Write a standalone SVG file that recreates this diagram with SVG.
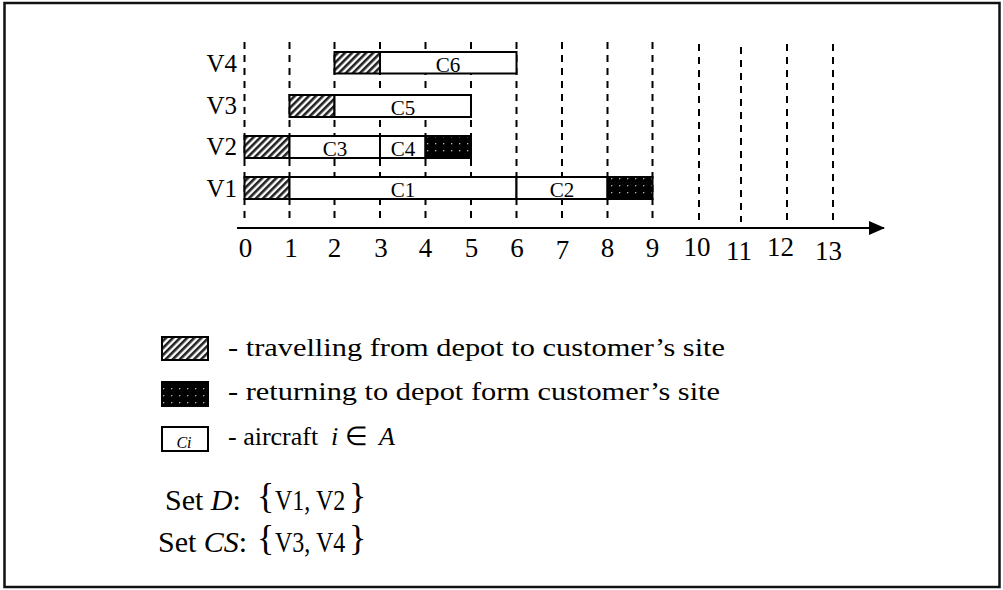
<svg xmlns="http://www.w3.org/2000/svg" width="1003" height="590" viewBox="0 0 1003 590">
<style>
text{font-family:"Liberation Serif","Times New Roman",serif;fill:#000}
.grid line{stroke:#000;stroke-width:2;stroke-dasharray:7 6}
.seg{stroke:#000;stroke-width:2}
.white{fill:#fff}
.hatch{fill:url(#hatch)}
.dots{fill:url(#dots)}
.clab{font-size:21px;text-anchor:middle}
.vlab{font-size:25px;text-anchor:end}
.tick{font-size:27px;text-anchor:middle}
.leg{font-size:26px}
.set{font-size:30px}
.brace{font-size:36px}
</style>
<defs>
<pattern id="hatch" patternUnits="userSpaceOnUse" width="5" height="5" patternTransform="rotate(45)">
<rect width="5" height="5" fill="#fff"/>
<rect width="2.6" height="5" fill="#222"/>
</pattern>
<pattern id="dots" patternUnits="userSpaceOnUse" width="8" height="7">
<rect width="8" height="7" fill="#000"/>
<rect x="3" y="3" width="1.3" height="1.3" fill="#bbb"/>
</pattern>
<marker id="arrow" markerWidth="16" markerHeight="14" refX="15" refY="7" orient="auto" markerUnits="userSpaceOnUse">
<path d="M0,0 L16,7 L0,14 z" fill="#000"/>
</marker>
</defs>
<rect x="4.5" y="3" width="995" height="584" fill="#fff" stroke="#111" stroke-width="2.5"/>

<g id="connectors">
<g class="grid">
<line x1="244.5" y1="42" x2="244.5" y2="219"/>
<line x1="289.5" y1="42" x2="289.5" y2="219"/>
<line x1="334.5" y1="42" x2="334.5" y2="219"/>
<line x1="380" y1="42" x2="380" y2="219"/>
<line x1="425.5" y1="42" x2="425.5" y2="219"/>
<line x1="471" y1="42" x2="471" y2="219"/>
<line x1="516.5" y1="42" x2="516.5" y2="219"/>
<line x1="562" y1="42" x2="562" y2="219"/>
<line x1="607.5" y1="42" x2="607.5" y2="219"/>
<line x1="652.5" y1="42" x2="652.5" y2="219"/>
<line x1="699" y1="44" x2="699" y2="222"/>
<line x1="741" y1="47" x2="741" y2="222"/>
<line x1="787" y1="44" x2="787" y2="222"/>
<line x1="833" y1="44" x2="833" y2="222"/>
</g>
<line id="axis" x1="237" y1="228" x2="884" y2="228" stroke="#000" stroke-width="2" marker-end="url(#arrow)"/>
</g>

<g id="axis-labels">
<text class="tick" x="245.5" y="257">0</text>
<text class="tick" x="291" y="257">1</text>
<text class="tick" x="334.5" y="257">2</text>
<text class="tick" x="381" y="257">3</text>
<text class="tick" x="425.5" y="257">4</text>
<text class="tick" x="471.5" y="257">5</text>
<text class="tick" x="517" y="257">6</text>
<text class="tick" x="562.5" y="259">7</text>
<text class="tick" x="607.5" y="257">8</text>
<text class="tick" x="652.5" y="257">9</text>
<text class="tick" x="697" y="256">10</text>
<text class="tick" x="739" y="260">11</text>
<text class="tick" x="780.5" y="256">12</text>
<text class="tick" x="828.5" y="260">13</text>
</g>

<g id="V4">
<text class="vlab" x="237" y="72">V4</text>
<rect class="seg hatch" x="334.5" y="52" width="45.5" height="21.5"/>
<rect class="seg white" x="380" y="52" width="136.5" height="21.5"/>
<text class="clab" x="448" y="71.5">C6</text>
</g>
<g id="V3">
<text class="vlab" x="237" y="113.5">V3</text>
<rect class="seg hatch" x="289.5" y="95" width="45" height="22"/>
<rect class="seg white" x="334.5" y="95" width="136.5" height="22"/>
<text class="clab" x="403" y="115">C5</text>
</g>
<g id="V2">
<text class="vlab" x="237" y="155">V2</text>
<rect class="seg hatch" x="244.5" y="136" width="45" height="22"/>
<rect class="seg white" x="289.5" y="136" width="90.5" height="22"/>
<text class="clab" x="335" y="156">C3</text>
<rect class="seg white" x="380" y="136" width="45.5" height="22"/>
<text class="clab" x="403" y="156">C4</text>
<rect class="seg dots" x="425.5" y="136" width="45.5" height="22"/>
</g>
<g id="V1">
<text class="vlab" x="237" y="197">V1</text>
<rect class="seg hatch" x="244.5" y="177" width="45" height="22"/>
<rect class="seg white" x="289.5" y="177" width="227" height="22"/>
<text class="clab" x="403" y="197">C1</text>
<rect class="seg white" x="516.5" y="177" width="91" height="22"/>
<text class="clab" x="562" y="197">C2</text>
<rect class="seg dots" x="607.5" y="177" width="45" height="22"/>
</g>

<g id="legend-travel">
<rect class="seg hatch" x="162" y="337" width="46" height="23"/>
<text class="leg" x="228" y="356" textLength="497" lengthAdjust="spacingAndGlyphs">- travelling from depot to customer’s site</text>
</g>
<g id="legend-return">
<rect class="seg dots" x="162" y="382" width="46" height="24"/>
<text class="leg" x="228" y="400" textLength="492" lengthAdjust="spacingAndGlyphs">- returning to depot form customer’s site</text>
</g>
<g id="legend-aircraft">
<rect class="seg white" x="162" y="427" width="46" height="24"/>
<text x="184" y="448" font-size="16" font-style="italic" text-anchor="middle">Ci</text>
<text class="leg" x="228" y="445">- aircraft <tspan x="331" font-style="italic">i</tspan><tspan x="345">∈</tspan><tspan x="379" font-style="italic">A</tspan></text>
</g>

<g id="set-D">
<text class="set" x="165" y="510">Set <tspan font-style="italic">D</tspan>:</text>
<text class="brace" x="257" y="508">{</text>
<text class="set" transform="translate(275,510) scale(0.8,1)">V1, V2</text>
<text class="brace" x="349" y="508">}</text>
</g>
<g id="set-CS">
<text class="set" x="158" y="551.5">Set <tspan font-style="italic">CS</tspan>:</text>
<text class="brace" x="257" y="550">{</text>
<text class="set" transform="translate(275,551.5) scale(0.8,1)">V3, V4</text>
<text class="brace" x="349" y="550">}</text>
</g>
</svg>
